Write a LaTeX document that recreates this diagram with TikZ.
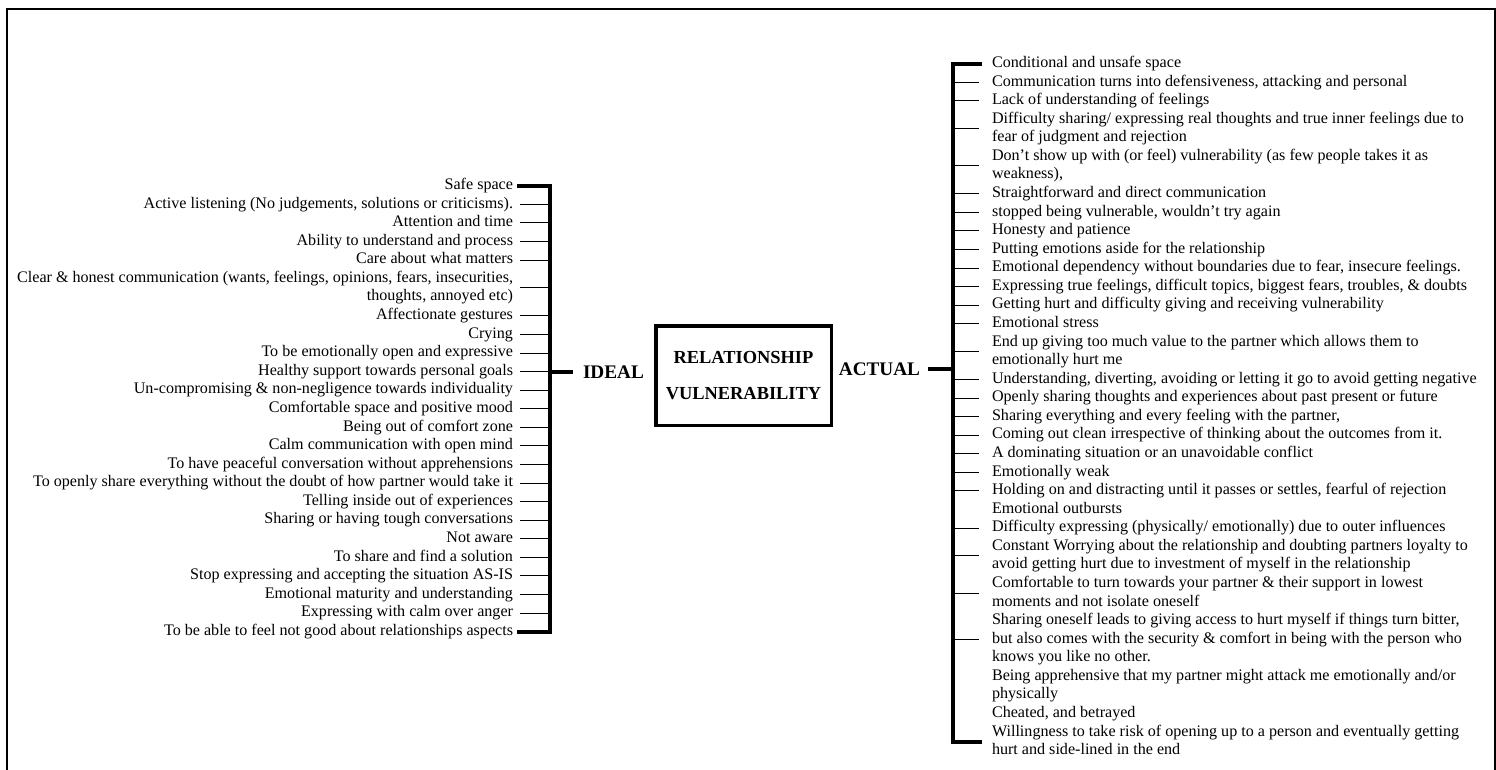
\documentclass[tikz,border=0pt]{standalone}
\usepackage{fontspec}
\setmainfont{Liberation Serif}
% one list entry, possibly on several lines; its baseline is that of the first line
\newcommand{\entrylines}[2]{\begin{tabular}[t]{@{}#1@{}}#2\end{tabular}}
\begin{document}
\begin{tikzpicture}[x=1pt,y=-1pt,
  every node/.style={inner sep=0pt,outer sep=0pt},
  itemfont/.style={font=\fontsize{16.1}{18.57}\selectfont},
  idealitem/.style={itemfont,anchor=base east},
  actualitem/.style={itemfont,anchor=base west},
  sidelabel/.style={font=\fontsize{19.2}{22}\selectfont\bfseries,inner ysep=0pt},
  corebox/.style={draw,line width=3.5pt,minimum width=175.5pt,minimum height=99.5pt,
    align=center,font=\fontsize{18.4}{36}\selectfont\bfseries},
  tickline/.style={line width=1pt},
  bracketline/.style={line width=4pt,line join=miter,line cap=butt},
  framelineA/.style={line width=2.2pt,line join=miter}
]
\useasboundingbox (0,0) rectangle (1496,769);

% page frame (open at the bottom)
\draw[framelineA] (7,790) -- (7,9) -- (1495,9) -- (1495,790);

% bracket positions
\coordinate (ltick) at (520,0);
\coordinate (ltop) at (517,0);
\coordinate (lbar) at (550,0);
\coordinate (rbar) at (953,0);
\coordinate (rtick) at (979,0);
\coordinate (rtop) at (982,0);

% central topic
\node[corebox] (core) at (743.5,375.5) {RELATIONSHIP\\VULNERABILITY};
\node[sidelabel,anchor=west,inner xsep=10pt] (ideal) at (573,372) {IDEAL};
\node[sidelabel,anchor=east,inner xsep=8pt] (actual) at (928,369) {ACTUAL};

% ideal list
\node[idealitem] (l1)  at (513,{189.5+18.58*0})  {\entrylines{r}{Safe space}};
\node[idealitem] (l2)  at (513,{189.5+18.58*1})  {\entrylines{r}{Active listening (No judgements, solutions or criticisms).}};
\node[idealitem] (l3)  at (513,{189.5+18.58*2})  {\entrylines{r}{Attention and time}};
\node[idealitem] (l4)  at (513,{189.5+18.58*3})  {\entrylines{r}{Ability to understand and process}};
\node[idealitem] (l5)  at (513,{189.5+18.58*4})  {\entrylines{r}{Care about what matters}};
\node[idealitem] (l6)  at (513,{189.5+18.58*5})  {\entrylines{r}{Clear \& honest communication (wants, feelings, opinions, fears, insecurities,\\thoughts, annoyed etc)}};
\node[idealitem] (l7)  at (513,{189.5+18.58*7})  {\entrylines{r}{Affectionate gestures}};
\node[idealitem] (l8)  at (513,{189.5+18.58*8})  {\entrylines{r}{Crying}};
\node[idealitem] (l9)  at (513,{189.5+18.58*9})  {\entrylines{r}{To be emotionally open and expressive}};
\node[idealitem] (l10) at (513,{189.5+18.58*10}) {\entrylines{r}{Healthy support towards personal goals}};
\node[idealitem] (l11) at (513,{189.5+18.58*11}) {\entrylines{r}{Un-compromising \& non-negligence towards individuality}};
\node[idealitem] (l12) at (513,{189.5+18.58*12}) {\entrylines{r}{Comfortable space and positive mood}};
\node[idealitem] (l13) at (513,{189.5+18.58*13}) {\entrylines{r}{Being out of comfort zone}};
\node[idealitem] (l14) at (513,{189.5+18.58*14}) {\entrylines{r}{Calm communication with open mind}};
\node[idealitem] (l15) at (513,{189.5+18.58*15}) {\entrylines{r}{To have peaceful conversation without apprehensions}};
\node[idealitem] (l16) at (513,{189.5+18.58*16}) {\entrylines{r}{To openly share everything without the doubt of how partner would take it}};
\node[idealitem] (l17) at (513,{189.5+18.58*17}) {\entrylines{r}{Telling inside out of experiences}};
\node[idealitem] (l18) at (513,{189.5+18.58*18}) {\entrylines{r}{Sharing or having tough conversations}};
\node[idealitem] (l19) at (513,{189.5+18.58*19}) {\entrylines{r}{Not aware}};
\node[idealitem] (l20) at (513,{189.5+18.58*20}) {\entrylines{r}{To share and find a solution}};
\node[idealitem] (l21) at (513,{189.5+18.58*21}) {\entrylines{r}{Stop expressing and accepting the situation AS-IS}};
\node[idealitem] (l22) at (513,{189.5+18.58*22}) {\entrylines{r}{Emotional maturity and understanding}};
\node[idealitem] (l23) at (513,{189.5+18.58*23}) {\entrylines{r}{Expressing with calm over anger}};
\node[idealitem] (l24) at (513,{189.5+18.58*24}) {\entrylines{r}{To be able to feel not good about relationships aspects}};

% actual list
\node[actualitem] (r1)  at (992,{67.5+18.57*0})  {\entrylines{l}{Conditional and unsafe space}};
\node[actualitem] (r2)  at (992,{67.5+18.57*1})  {\entrylines{l}{Communication turns into defensiveness, attacking and personal}};
\node[actualitem] (r3)  at (992,{67.5+18.57*2})  {\entrylines{l}{Lack of understanding of feelings}};
\node[actualitem] (r4)  at (992,{67.5+18.57*3})  {\entrylines{l}{Difficulty sharing/ expressing real thoughts and true inner feelings due to\\fear of judgment and rejection}};
\node[actualitem] (r5)  at (992,{67.5+18.57*5})  {\entrylines{l}{Don’t show up with (or feel) vulnerability (as few people takes it as\\weakness),}};
\node[actualitem] (r6)  at (992,{67.5+18.57*7})  {\entrylines{l}{Straightforward and direct communication}};
\node[actualitem] (r7)  at (992,{67.5+18.57*8})  {\entrylines{l}{stopped being vulnerable, wouldn’t try again}};
\node[actualitem] (r8)  at (992,{67.5+18.57*9})  {\entrylines{l}{Honesty and patience}};
\node[actualitem] (r9)  at (992,{67.5+18.57*10}) {\entrylines{l}{Putting emotions aside for the relationship}};
\node[actualitem] (r10) at (992,{67.5+18.57*11}) {\entrylines{l}{Emotional dependency without boundaries due to fear, insecure feelings.}};
\node[actualitem] (r11) at (992,{67.5+18.57*12}) {\entrylines{l}{Expressing true feelings, difficult topics, biggest fears, troubles, \& doubts}};
\node[actualitem] (r12) at (992,{67.5+18.57*13}) {\entrylines{l}{Getting hurt and difficulty giving and receiving vulnerability}};
\node[actualitem] (r13) at (992,{67.5+18.57*14}) {\entrylines{l}{Emotional stress}};
\node[actualitem] (r14) at (992,{67.5+18.57*15}) {\entrylines{l}{End up giving too much value to the partner which allows them to\\emotionally hurt me}};
\node[actualitem] (r15) at (992,{67.5+18.57*17}) {\entrylines{l}{Understanding, diverting, avoiding or letting it go to avoid getting negative}};
\node[actualitem] (r16) at (992,{67.5+18.57*18}) {\entrylines{l}{Openly sharing thoughts and experiences about past present or future}};
\node[actualitem] (r17) at (992,{67.5+18.57*19}) {\entrylines{l}{Sharing everything and every feeling with the partner,}};
\node[actualitem] (r18) at (992,{67.5+18.57*20}) {\entrylines{l}{Coming out clean irrespective of thinking about the outcomes from it.}};
\node[actualitem] (r19) at (992,{67.5+18.57*21}) {\entrylines{l}{A dominating situation or an unavoidable conflict}};
\node[actualitem] (r20) at (992,{67.5+18.57*22}) {\entrylines{l}{Emotionally weak}};
\node[actualitem] (r21) at (992,{67.5+18.57*23}) {\entrylines{l}{Holding on and distracting until it passes or settles, fearful of rejection}};
\node[actualitem] (r22) at (992,{67.5+18.57*24}) {\entrylines{l}{Emotional outbursts}};
\node[actualitem] (r23) at (992,{67.5+18.57*25}) {\entrylines{l}{Difficulty expressing (physically/ emotionally) due to outer influences}};
\node[actualitem] (r24) at (992,{67.5+18.57*26}) {\entrylines{l}{Constant Worrying about the relationship and doubting partners loyalty to\\avoid getting hurt due to investment of myself in the relationship}};
\node[actualitem] (r25) at (992,{67.5+18.57*28}) {\entrylines{l}{Comfortable to turn towards your partner \& their support in lowest\\moments and not isolate oneself}};
\node[actualitem] (r26) at (992,{67.5+18.57*30}) {\entrylines{l}{Sharing oneself leads to giving access to hurt myself if things turn bitter,\\but also comes with the security \& comfort in being with the person who\\knows you like no other.}};
\node[actualitem] (r27) at (992,{67.5+18.57*33}) {\entrylines{l}{Being apprehensive that my partner might attack me emotionally and/or\\physically}};
\node[actualitem] (r28) at (992,{67.5+18.57*35}) {\entrylines{l}{Cheated, and betrayed}};
\node[actualitem] (r29) at (992,{67.5+18.57*36}) {\entrylines{l}{Willingness to take risk of opening up to a person and eventually getting\\hurt and side-lined in the end}};

% ideal bracket with its ticks
\foreach \n in {l2,l3,l4,l5,l6,l7,l8,l9,l10,l11,l12,l13,l14,l15,l16,l17,l18,l19,l20,l21,l22,l23}
  \draw[tickline] (\n.east -| ltick) -- (\n.east -| lbar);
\draw[bracketline] (l1.east -| ltop) -- (l1.east -| lbar) -- (l24.east -| lbar) -- (l24.east -| ltop);
\draw[bracketline] (ideal.west) -- (ideal.west -| lbar);

% actual bracket with its ticks
\foreach \n in {r2,r3,r4,r5,r6,r7,r8,r9,r10,r11,r12,r13,r14,r15,r16,r17,r18,r19,r20,r21,r23,r24,r25,r26}
  \draw[tickline] (\n.west -| rbar) -- (\n.west -| rtick);
\draw[bracketline] (r1.west -| rtop) -- (r1.west -| rbar) -- (r29.west -| rbar) -- (r29.west -| rtop);
\draw[bracketline] (actual.east) -- (actual.east -| rbar);
\end{tikzpicture}
\end{document}
